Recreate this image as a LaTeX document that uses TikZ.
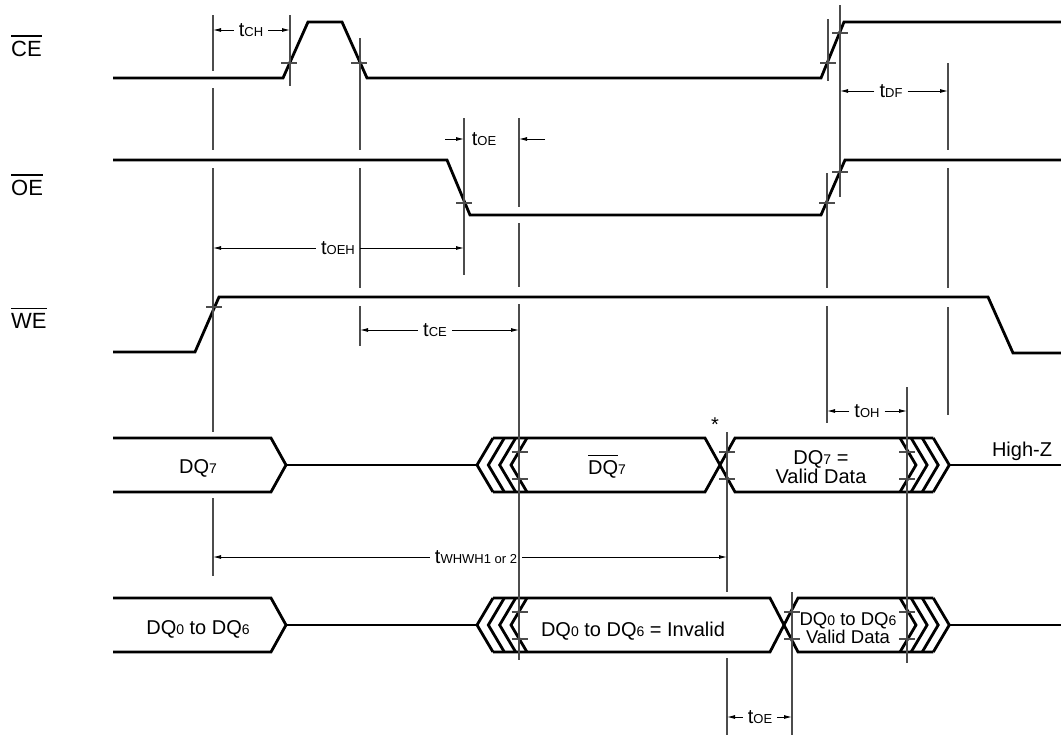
\documentclass[tikz,border=0pt]{standalone}
\usepackage{fontspec}
\setmainfont{Liberation Sans}
\usetikzlibrary{arrows.meta}
\newcommand{\tsub}[1]{{\fontsize{13}{13}\selectfont #1}}
\newcommand{\dsub}[1]{{\fontsize{14}{14}\selectfont #1}}
\newcommand{\ovl}[1]{\vbox{\hrule height 1.2pt\kern 4pt\hbox{#1}}}
\begin{document}
\begin{tikzpicture}[x=1pt,y=-1pt,
  sig/.style={line width=2.8pt},
  vl/.style={line width=1.1pt, draw=black!70},
  tk/.style={line width=1.1pt, draw=black!70},
  dim/.style={line width=0.9pt, -{Latex[length=8pt,width=4pt]}},
  lab/.style={font=\fontsize{20}{20}\selectfont, inner xsep=5pt, inner ysep=0pt},
  txt/.style={font=\fontsize{20}{18}\selectfont, inner sep=0pt, align=center},
  sl/.style={font=\fontsize{22}{22}\selectfont, inner sep=0pt}]
\useasboundingbox (0,0) rectangle (1061,736);
% signal names
\node[sl, anchor=base west] (ce) at (11,56) {\ovl{CE}};
\node[sl, anchor=base west] (oe) at (11,195) {\ovl{OE}};
\node[sl, anchor=base west] (we) at (11,328) {\ovl{WE}};
% control signals
\draw[sig] (113,78) -- (283,78) -- (308,22) -- (342,22) -- (367,78) -- (821,78) -- (844,22) -- (1061,22);
\draw[sig] (113,160) -- (447,160) -- (470,215) -- (821,215) -- (845,160) -- (1061,160);
\draw[sig] (113,352) -- (195,352) -- (219,297) -- (988,297) -- (1013,353) -- (1061,353);
% DQ7 row
\draw[sig] (113,438) -- (271,438) -- (286,465) -- (271,492) -- (113,492);
\draw[sig] (286,465) -- (477,465);
\draw[sig] (493,438) -- (705,438) -- (735,492) -- (933.3,492);
\draw[sig] (493,492) -- (705,492) -- (735,438) -- (933.3,438);
\draw[sig] (948.3,465) -- (1061,465);
% DQ0-6 row
\draw[sig] (113,598) -- (271,598) -- (286,625) -- (271,652) -- (113,652);
\draw[sig] (286,625) -- (477,625);
\draw[sig] (493,598) -- (770,598) -- (798,652) -- (933.3,652);
\draw[sig] (493,652) -- (770,652) -- (798,598) -- (933.3,598);
\draw[sig] (948.3,625) -- (1061,625);
% chevrons
\foreach \yy in {438,598} {
  \foreach \k in {0,1,2,3} {
    \draw[sig] ({493+11.33*\k},\yy) -- ({477+11.33*\k},\yy+27) -- ({493+11.33*\k},\yy+54);
    \draw[sig] ({900+11.1*\k},\yy) -- ({916+11.1*\k},\yy+27) -- ({900+11.1*\k},\yy+54);
  }
}
% vertical reference lines
\draw[vl] (213,15) -- (213,71) (213,88) -- (213,150) (213,168) -- (213,432) (213,498) -- (213,576);
\draw[vl] (290,15) -- (290,86);
\draw[vl] (360,38) -- (360,150) (360,168) -- (360,288) (360,306) -- (360,346);
\draw[vl] (464,118) -- (464,275);
\draw[vl] (519,118) -- (519,207) (519,223) -- (519,287) (519,304) -- (519,660);
\draw[vl] (727,432) -- (727,592) (727,658) -- (727,735);
\draw[vl] (792,592) -- (792,735);
\draw[vl] (828,19) -- (828,81);
\draw[vl] (827,173) -- (827,288) (827,306) -- (827,423);
\draw[vl] (840,5) -- (840,197);
\draw[vl] (907,387) -- (907,663);
\draw[vl] (948,63) -- (948,150) (948,168) -- (948,288) (948,307) -- (948,415);
% ticks
\foreach \tx/\ty in {289/63, 359/63, 828/63, 840/33, 464/203, 827/203, 840/172, 214/307,
  519.5/452, 519.5/479, 727/452, 727/479, 907/452, 907/479,
  519.5/612, 519.5/639, 792/612, 792/639, 907/612, 907/639}
  \draw[tk] (\tx-8,\ty) -- (\tx+8,\ty);
% timing labels and arrows
\node[lab] (tch) at (251,30) {t\tsub{CH}};
\draw[dim] (tch.west) -- (213,30);
\draw[dim] (tch.east) -- (290,30);
\node[lab] (toea) at (484,139) {t\tsub{OE}};
\coordinate (toeaL) at (445,139);
\coordinate (toeaR) at (545,139);
\draw[dim] (toeaL) -- (464,139);
\draw[dim] (toeaR) -- (519,139);
\node[lab] (tdf) at (891,91) {t\tsub{DF}};
\draw[dim] (tdf.west) -- (840,91);
\draw[dim] (tdf.east) -- (948,91);
\node[lab] (toeh) at (338,248) {t\tsub{OEH}};
\draw[dim] (toeh.west) -- (213,248);
\draw[dim] (toeh.east) -- (464,248);
\node[lab] (tce) at (435,330) {t\tsub{CE}};
\draw[dim] (tce.west) -- (360,330);
\draw[dim] (tce.east) -- (519,330);
\node[lab] (toh) at (867,411) {t\tsub{OH}};
\draw[dim] (toh.west) -- (827,411);
\draw[dim] (toh.east) -- (907,411);
\node[lab] (twh) at (476,557) {t\tsub{WHWH1 or 2}};
\draw[dim] (twh.west) -- (213,557);
\draw[dim] (twh.east) -- (727,557);
\node[lab] (toeb) at (760,717) {t\tsub{OE}};
\draw[dim] (toeb.west) -- (727,717);
\draw[dim] (toeb.east) -- (792,717);
% data texts
\node[txt, anchor=base] (dq7l) at (198,473) {DQ\dsub{7}};
\node[txt, anchor=base] (dq7n) at (607,474) {\ovl{DQ}\dsub{7}};
\node[txt] (dq7v) at (821,467) {DQ\dsub{7} =\\Valid Data};
\node[txt, anchor=base] (dq0l) at (198,634) {DQ\dsub{0} to DQ\dsub{6}};
\node[txt, anchor=base] (dq0i) at (633,636) {DQ\dsub{0} to DQ\dsub{6} = Invalid};
\node[txt, font=\fontsize{18.5}{18}\selectfont] (dq0v) at (848,628) {DQ\dsub{0} to DQ\dsub{6}\\Valid Data};
\node[txt, anchor=base] (hiz) at (1022,456) {High-Z};
\node[txt, anchor=base] (star) at (715,431) {*};
\end{tikzpicture}
\end{document}
